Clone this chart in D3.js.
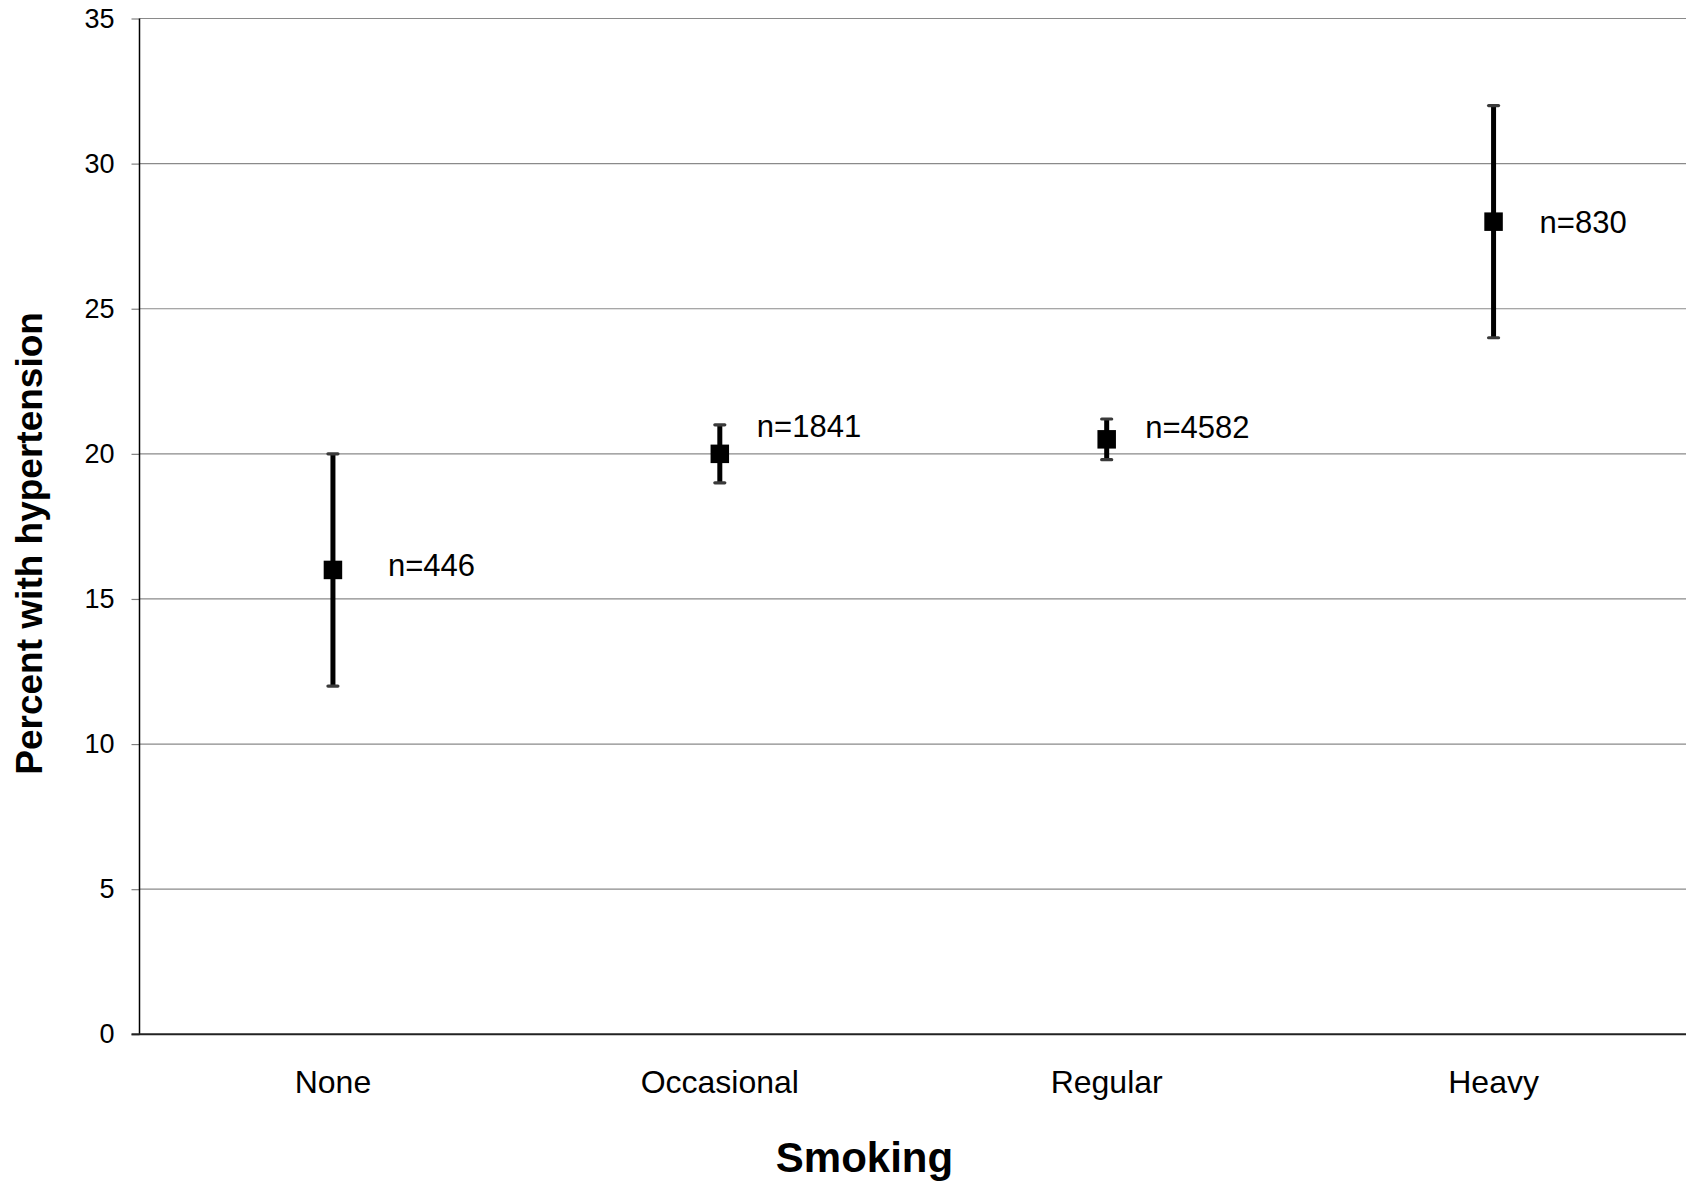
<!DOCTYPE html>
<html>
<head>
<meta charset="utf-8">
<script src="https://cdn.jsdelivr.net/npm/d3@7"></script>
<style>
  html, body { margin: 0; padding: 0; background: #fff; }
  svg { display: block; font-family: "Liberation Sans", Arial, sans-serif; }
</style>
</head>
<body>
<svg id="chart" width="1686" height="1187"></svg>
<script>
// ---- data ----
const categories = ["None", "Occasional", "Regular", "Heavy"];
const meanValues = [16, 20, 20.5, 28];
const lowerValues = [12, 19, 19.8, 24];
const upperValues = [20, 21, 21.2, 32];
const sampleLabels = ["n=446", "n=1841", "n=4582", "n=830"];
const yTickValues = [0, 5, 10, 15, 20, 25, 30, 35];
const yAxisTitle = "Percent with hypertension";
const xAxisTitle = "Smoking";

// ---- layout (styling, not data) ----
const W = 1686, H = 1187;
const plot = { left: 139.5, right: 1687, top: 18.5, bottom: 1034.3 };
// label baseline offsets relative to marker centre, in px
const labelDX = [55, 37, 38.5, 46];
const labelDY = [6, -17, -1, 11];

const svg = d3.select("#chart");

const x = d3.scaleBand().domain(categories).range([plot.left, plot.right]).padding(0);
const y = d3.scaleLinear().domain([0, 35]).range([plot.bottom, plot.top]);

// gridlines
svg.append("g")
  .selectAll("line")
  .data(yTickValues.filter(v => v > 0))
  .join("line")
  .attr("x1", plot.left)
  .attr("x2", W)
  .attr("y1", d => y(d))
  .attr("y2", d => y(d))
  .attr("stroke", "#8a8a8a")
  .attr("stroke-width", 1.2);

// y axis
const yAxis = d3.axisLeft(y).tickValues(yTickValues).tickSize(8).tickPadding(17);
const yg = svg.append("g").attr("transform", `translate(${plot.left},0)`).call(yAxis);
yg.select(".domain").remove();
yg.selectAll(".tick line").attr("stroke", "#808080").attr("stroke-width", 1.2);
yg.selectAll(".tick text")
  .attr("fill", "#000")
  .style("font-size", "27px")
  .style("font-family", "'Liberation Sans', Arial, sans-serif");

// axis lines
svg.append("line")
  .attr("x1", plot.left).attr("x2", plot.left)
  .attr("y1", plot.top).attr("y2", plot.bottom)
  .attr("stroke", "#000").attr("stroke-width", 1.5);
svg.append("line")
  .attr("x1", plot.left - 8).attr("x2", W)
  .attr("y1", plot.bottom).attr("y2", plot.bottom)
  .attr("stroke", "#222").attr("stroke-width", 2);

// x axis labels
const xAxis = d3.axisBottom(x).tickSize(0).tickPadding(0);
const xg = svg.append("g").attr("transform", `translate(0,${plot.bottom})`).call(xAxis);
xg.select(".domain").remove();
xg.selectAll(".tick text")
  .attr("fill", "#000")
  .attr("y", 59)
  .attr("dy", 0)
  .style("font-size", "32px")
  .style("font-family", "'Liberation Sans', Arial, sans-serif");

// error bars
const pts = categories.map((c, i) => ({
  c, mean: meanValues[i], lo: lowerValues[i], hi: upperValues[i], label: sampleLabels[i], i
}));
const cx = d => x(d.c) + x.bandwidth() / 2;

const g = svg.append("g");
g.selectAll("line.bar")
  .data(pts).join("line")
  .attr("class", "bar")
  .attr("x1", cx).attr("x2", cx)
  .attr("y1", d => y(d.hi)).attr("y2", d => y(d.lo))
  .attr("stroke", "#000").attr("stroke-width", 5);

["hi", "lo"].forEach(k => {
  g.selectAll("line.cap-" + k)
    .data(pts).join("line")
    .attr("class", "cap-" + k)
    .attr("x1", d => cx(d) - 5).attr("x2", d => cx(d) + 5)
    .attr("y1", d => y(d[k])).attr("y2", d => y(d[k]))
    .attr("stroke", "#3a3a3a").attr("stroke-width", 3.2)
    .attr("stroke-linecap", "round");
});

const ms = 18.5;
g.selectAll("rect.marker")
  .data(pts).join("rect")
  .attr("class", "marker")
  .attr("x", d => cx(d) - ms / 2)
  .attr("y", d => y(d.mean) - ms / 2)
  .attr("width", ms).attr("height", ms)
  .attr("fill", "#000");

g.selectAll("text.nlabel")
  .data(pts).join("text")
  .attr("class", "nlabel")
  .attr("x", d => cx(d) + labelDX[d.i])
  .attr("y", d => y(d.mean) + labelDY[d.i])
  .style("font-size", "31px")
  .attr("fill", "#000")
  .text(d => d.label);

// axis titles
svg.append("text")
  .attr("transform", `translate(42,${(plot.top + plot.bottom) / 2 + 17}) rotate(-90)`)
  .attr("text-anchor", "middle")
  .style("font-size", "37px")
  .style("font-weight", "bold")
  .attr("fill", "#000")
  .text(yAxisTitle);

svg.append("text")
  .attr("x", 864.5)
  .attr("y", 1172)
  .attr("text-anchor", "middle")
  .style("font-size", "42px")
  .style("font-weight", "bold")
  .attr("fill", "#000")
  .text(xAxisTitle);
</script>
</body>
</html>
